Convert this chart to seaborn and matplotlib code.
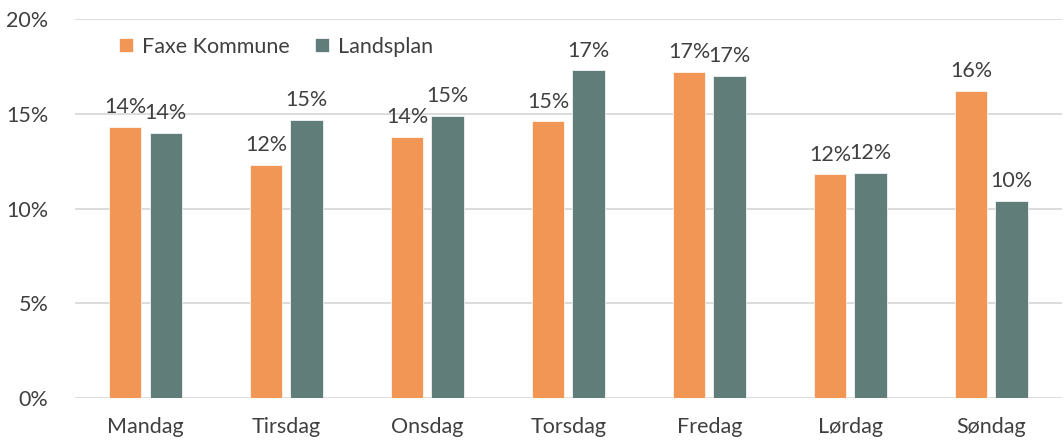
import pandas as pd
import matplotlib.pyplot as plt
import seaborn as sns

days = ['Mandag', 'Tirsdag', 'Onsdag', 'Torsdag', 'Fredag', 'Lørdag', 'Søndag']
faxe = [14.3, 12.3, 13.8, 14.6, 17.2, 11.8, 16.2]
landsplan = [14.0, 14.7, 14.9, 17.3, 17.0, 11.9, 10.4]
series = ['Faxe Kommune', 'Landsplan']

df = pd.DataFrame({
    'Dag': days * 2,
    'Serie': [series[0]] * len(days) + [series[1]] * len(days),
    'Andel': faxe + landsplan,
})

sns.set_style('white')
plt.rcParams['font.family'] = ['Lato', 'DejaVu Sans']

fig, ax = plt.subplots(figsize=(10.64, 4.44), dpi=100)
fig.subplots_adjust(left=0.0705, right=0.998, top=0.957, bottom=0.1036)

colors = {'Faxe Kommune': '#F29656', 'Landsplan': '#617D7A'}
sns.barplot(data=df, x='Dag', y='Andel', hue='Serie', palette=colors,
            saturation=1, width=0.57, gap=0.2, ax=ax, edgecolor='white',
            linewidth=0.5, zorder=3)

for cont in ax.containers:
    ax.bar_label(cont, labels=[f'{v:.0f}%' for v in cont.datavalues],
                 padding=7, fontsize=15.5, color='#404040')

ax.set_ylim(0, 20)
ax.set_yticks([0, 5, 10, 15, 20])
ax.set_yticklabels([f'{t}%' for t in [0, 5, 10, 15, 20]])
ax.yaxis.grid(True, color='#D9D9D9', linewidth=1.3, zorder=0)
ax.set_axisbelow(True)
ax.set_xlabel('')
ax.set_ylabel('')
for s in ax.spines.values():
    s.set_visible(False)
ax.tick_params(axis='both', length=0, labelsize=15.5, labelcolor='#404040')
ax.tick_params(axis='y', pad=19)
ax.tick_params(axis='x', pad=14)

leg = ax.legend(loc='upper left', bbox_to_anchor=(0.025, 1.005), ncol=2,
                frameon=False, fontsize=15.5, handlelength=0.65, handleheight=0.65,
                handletextpad=0.4, columnspacing=1.2)
for t in leg.get_texts():
    t.set_color('#404040')

fig.savefig('out.png', dpi=100)
